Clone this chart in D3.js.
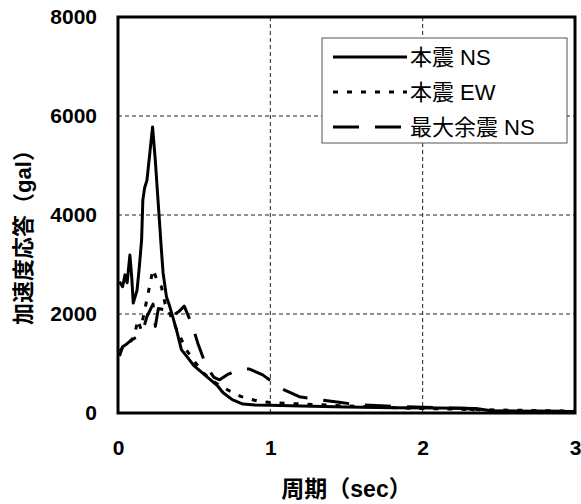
<!DOCTYPE html>
<html>
<head>
<meta charset="utf-8">
<script src="https://cdn.jsdelivr.net/npm/d3@7"></script>
<style>
  body { margin: 0; background: #fff; }
  text { font-family: "Liberation Sans", Arial, "Noto Sans CJK JP", sans-serif; }
</style>
</head>
<body>
<script>
// periods (sec) and response values (gal)
const nsMain = [
  [0.01, 2650], [0.03, 2550], [0.046, 2790], [0.06, 2630], [0.078, 3190],
  [0.09, 2750], [0.1, 2220], [0.125, 2480], [0.14, 2950], [0.155, 3500],
  [0.163, 4300], [0.175, 4550], [0.19, 4700], [0.227, 5780], [0.245, 5100],
  [0.27, 3970], [0.285, 3290], [0.296, 2830], [0.318, 2350], [0.34, 2150],
  [0.384, 1680], [0.416, 1280], [0.45, 1150], [0.5, 950], [0.55, 820],
  [0.6, 690], [0.65, 560], [0.69, 410], [0.75, 270], [0.82, 180],
  [0.9, 160], [1.0, 155], [1.2, 140], [1.5, 120], [1.8, 105],
  [2.1, 100], [2.35, 90], [2.45, 45], [3.0, 30],
];
const ewMain = [
  [0.01, 1250], [0.03, 1320], [0.06, 1380], [0.09, 1470], [0.11, 1600],
  [0.13, 1880], [0.15, 1700], [0.17, 2000], [0.2, 2450], [0.23, 2900],
  [0.26, 2650], [0.285, 2550], [0.31, 2200], [0.33, 2080], [0.38, 1720],
  [0.45, 1270], [0.5, 1050], [0.56, 810], [0.62, 650], [0.68, 530],
  [0.75, 420], [0.81, 330], [0.93, 230], [1.06, 200], [1.3, 170],
  [1.6, 130], [2.0, 90], [2.5, 60], [3.0, 40],
];
const nsAfter = [
  [0.01, 1150], [0.03, 1340], [0.06, 1400], [0.09, 1480], [0.13, 1540],
  [0.165, 1680], [0.19, 1950], [0.23, 2200], [0.245, 1750], [0.265, 2110],
  [0.32, 2080], [0.35, 1950], [0.4, 2050], [0.435, 2160], [0.49, 1750],
  [0.525, 1400], [0.58, 940], [0.63, 720], [0.667, 670], [0.72, 780],
  [0.8, 880], [0.86, 890], [0.95, 770], [1.08, 480], [1.19, 330],
  [1.34, 260], [1.45, 215], [1.58, 165], [1.84, 130], [2.0, 115],
  [2.28, 95], [2.39, 35], [3.0, 35],
];

const seriesNames = ["本震 NS", "本震 EW", "最大余震 NS"];
const xTicks = [0, 1, 2, 3];
const yTicks = [0, 2000, 4000, 6000, 8000];

const w = 581;
const h = 504;
const pLeft = 118, pRight = 575, pTop = 17, pBottom = 413;

const svg = d3.select("body").append("svg")
  .attr("width", w)
  .attr("height", h);

const x = d3.scaleLinear().domain([0, 3]).range([pLeft, pRight]);
const y = d3.scaleLinear().domain([0, 8000]).range([pBottom, pTop]);

// grid lines
svg.append("g")
  .selectAll("line")
  .data(xTicks.slice(1, -1))
  .enter().append("line")
  .attr("x1", (d) => x(d)).attr("x2", (d) => x(d))
  .attr("y1", pTop).attr("y2", pBottom)
  .attr("stroke", "#222").attr("stroke-width", 1)
  .attr("stroke-dasharray", "4,3");
svg.append("g")
  .selectAll("line")
  .data(yTicks.slice(1, -1))
  .enter().append("line")
  .attr("x1", pLeft).attr("x2", pRight)
  .attr("y1", (d) => y(d)).attr("y2", (d) => y(d))
  .attr("stroke", "#222").attr("stroke-width", 1)
  .attr("stroke-dasharray", "4,3");

// axes (labels only, frame drawn separately)
const xAxis = d3.axisBottom(x).tickValues(xTicks).tickFormat(d3.format("d"))
  .tickSize(0).tickPadding(27);
const gx = svg.append("g")
  .attr("transform", "translate(0," + pBottom + ")")
  .call(xAxis);
const yAxis = d3.axisLeft(y).tickValues(yTicks).tickFormat(d3.format("d"))
  .tickSize(0).tickPadding(21);
const gy = svg.append("g")
  .attr("transform", "translate(" + pLeft + ",0)")
  .call(yAxis);
[gx, gy].forEach((g) => {
  g.select(".domain").remove();
  g.selectAll("text")
    .attr("font-size", 21)
    .attr("font-weight", "bold")
    .attr("fill", "#000")
    .style("font-family", "'Liberation Sans', Arial, sans-serif");
});

// curves
const line = d3.line().x((d) => x(d[0])).y((d) => y(d[1]));
const styles = [
  { data: nsMain, dash: null },
  { data: ewMain, dash: "5,9" },
  { data: nsAfter, dash: "26,16" },
];
svg.selectAll("path.curve")
  .data(styles)
  .enter().append("path")
  .attr("class", "curve")
  .attr("d", (d) => line(d.data))
  .attr("fill", "none")
  .attr("stroke", "#000")
  .attr("stroke-width", 3)
  .attr("stroke-linejoin", "round")
  .attr("stroke-dasharray", (d) => d.dash);

// plot frame
svg.append("rect")
  .attr("x", pLeft).attr("y", pTop)
  .attr("width", pRight - pLeft).attr("height", pBottom - pTop)
  .attr("fill", "none").attr("stroke", "#000").attr("stroke-width", 3);

// legend
const lg = svg.append("g").attr("transform", "translate(322,38)");
lg.append("rect")
  .attr("width", 245).attr("height", 105)
  .attr("fill", "#fff").attr("stroke", "#555").attr("stroke-width", 1);
styles.forEach((s, i) => {
  const cy = 19 + i * 35;
  lg.append("line")
    .attr("x1", 11).attr("x2", 85)
    .attr("y1", cy).attr("y2", cy)
    .attr("stroke", "#000").attr("stroke-width", 3)
    .attr("stroke-dasharray", s.dash);
  lg.append("text")
    .attr("x", 88).attr("y", cy + 8)
    .attr("font-size", 22)
    .attr("fill", "#000")
    .text(seriesNames[i]);
});

// axis titles
svg.append("text")
  .attr("x", (pLeft + pRight) / 2).attr("y", 497)
  .attr("text-anchor", "middle")
  .attr("font-size", 23)
  .attr("font-weight", "bold")
  .text("周期（sec）");
svg.append("text")
  .attr("transform", "translate(31,232) rotate(-90)")
  .attr("text-anchor", "middle")
  .attr("font-size", 22)
  .attr("font-weight", "bold")
  .text("加速度応答（gal）");
</script>
</body>
</html>
